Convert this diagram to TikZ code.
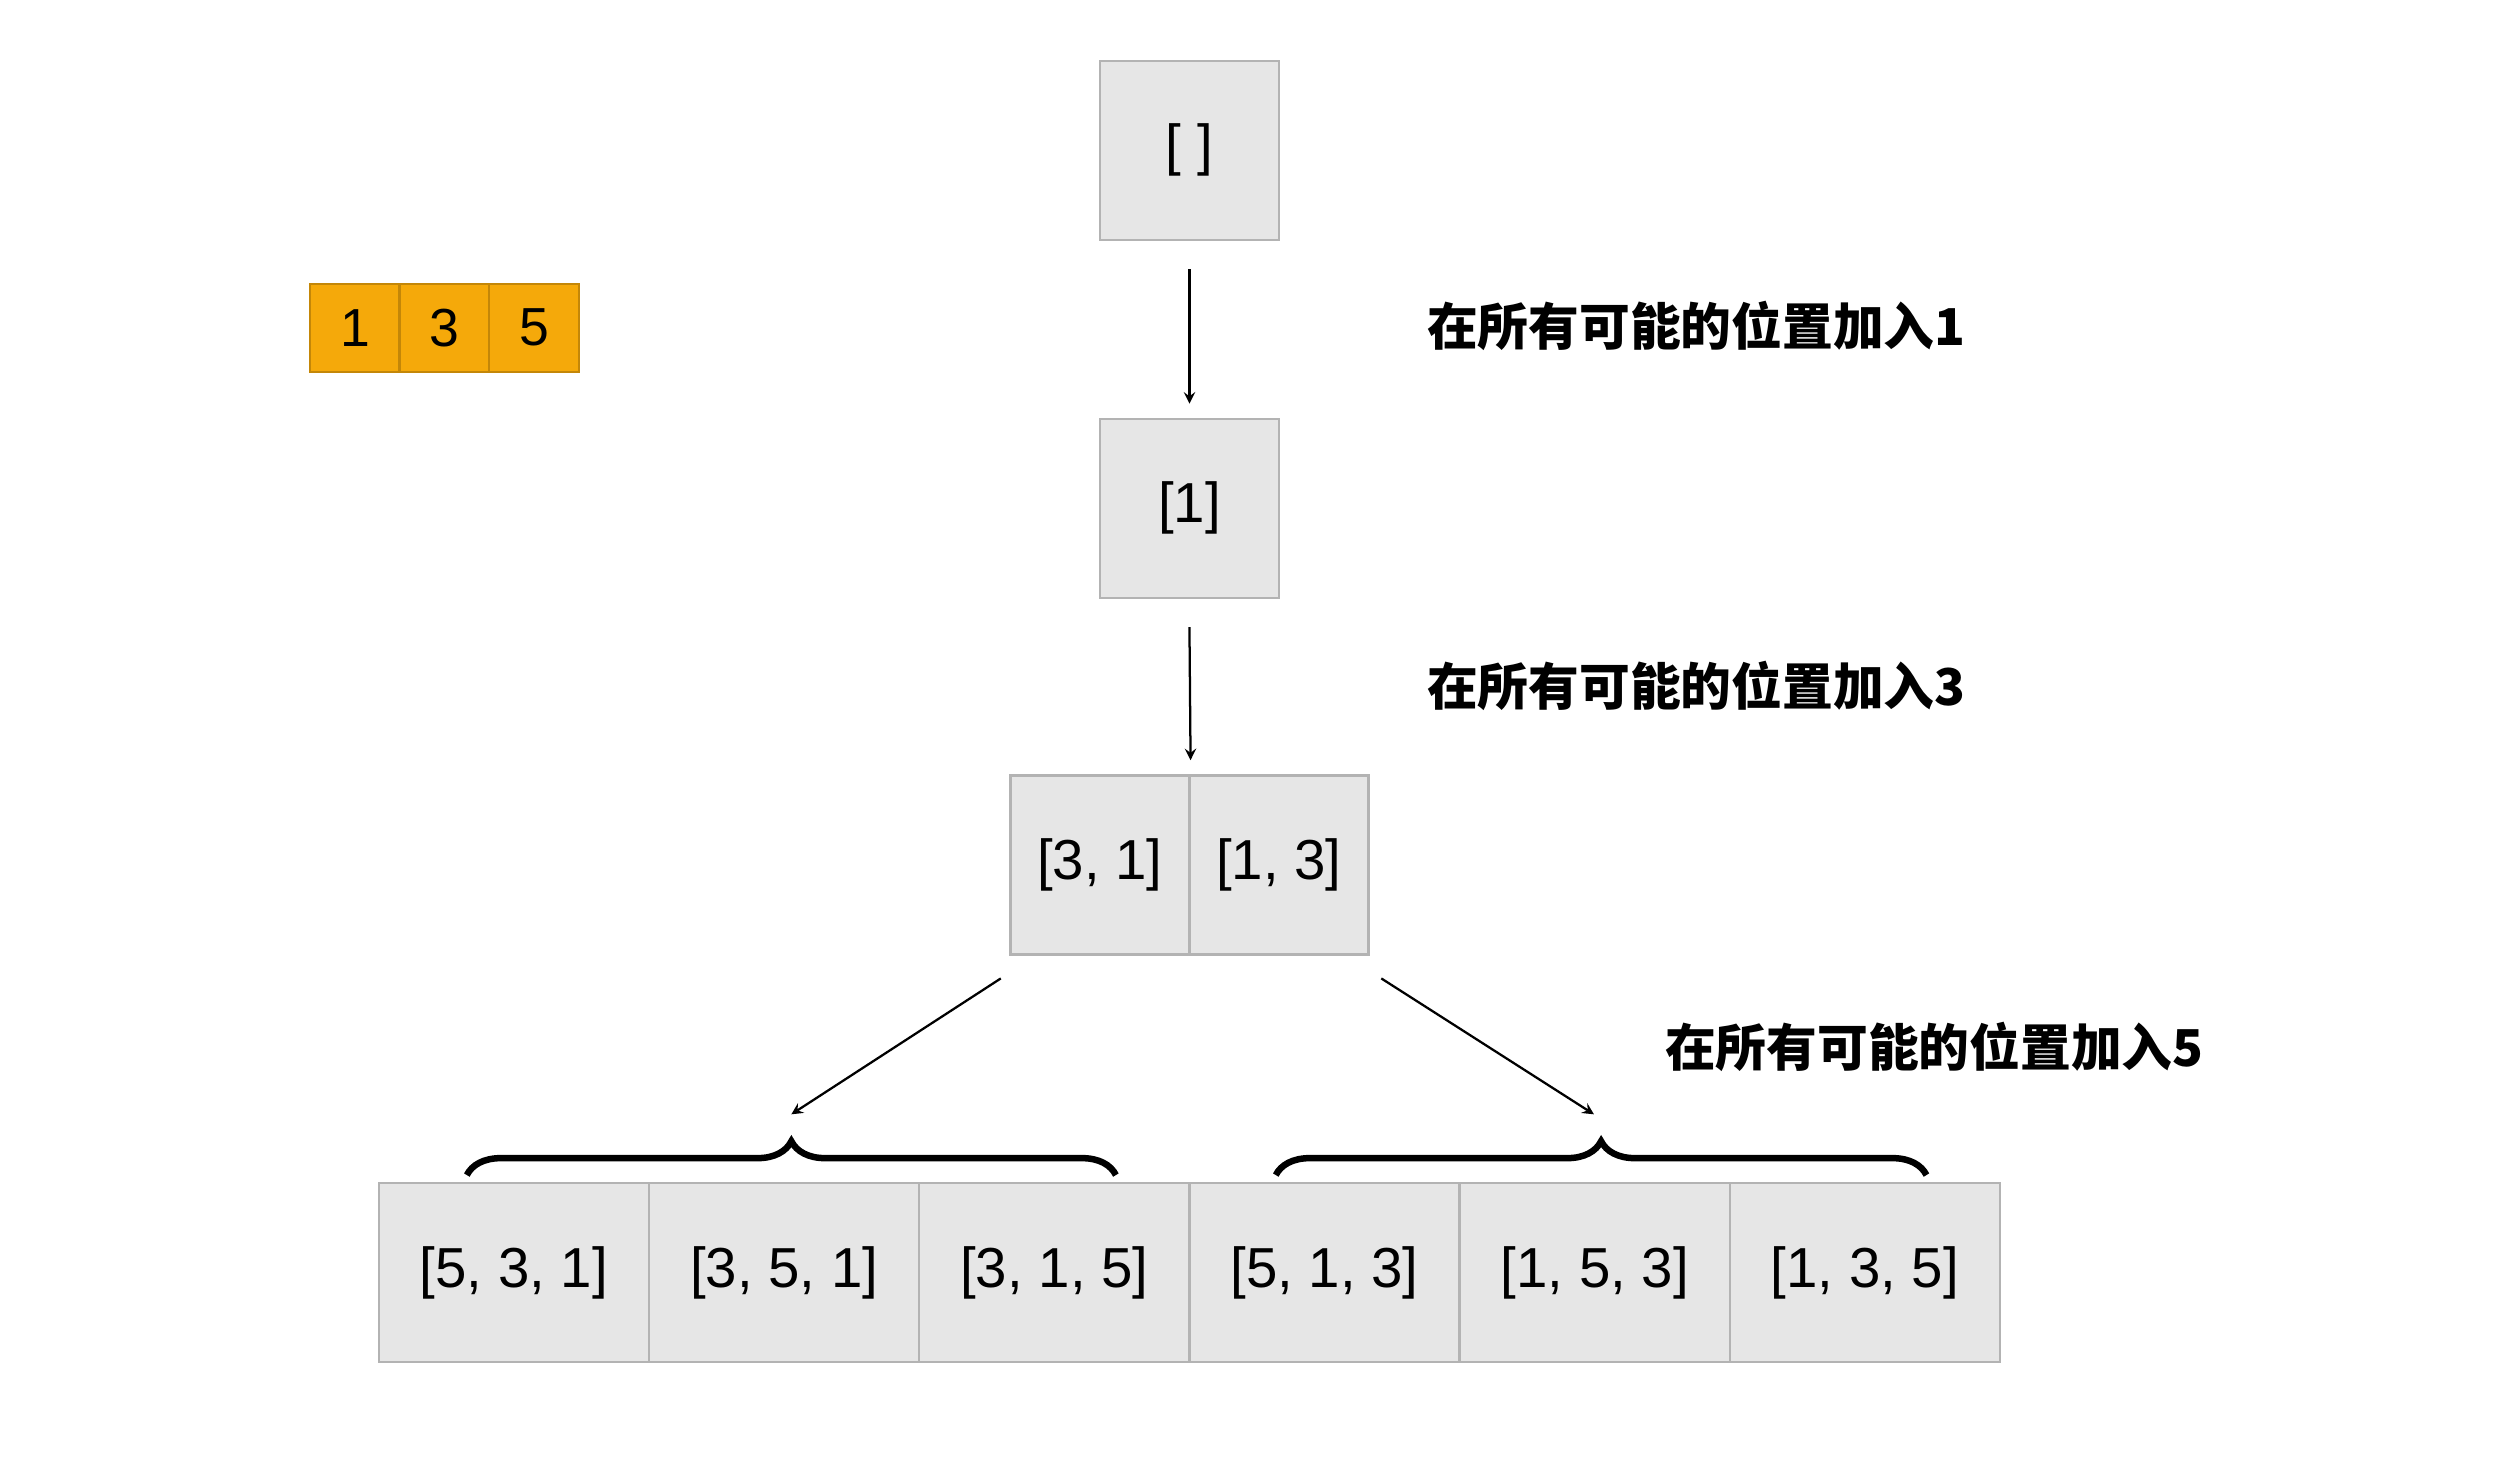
\documentclass[tikz,border=0pt]{standalone}
\usepackage{fontspec}
\setmainfont{Liberation Sans}
\newfontfamily\cjk{Noto Sans CJK SC}
\usetikzlibrary{arrows, decorations.pathreplacing, positioning}
\tikzset{>=stealth}
\definecolor{boxgray}{HTML}{E6E6E6}
\definecolor{edgegray}{HTML}{B3B3B3}
\definecolor{orng}{HTML}{F5A90A}
\tikzset{
  cell/.style={draw=edgegray, fill=boxgray, minimum width=63.5pt, minimum height=63.5pt, inner sep=0pt, font=\fontsize{20}{24}\selectfont},
  wide/.style={cell, minimum width=95.8pt},
  digit/.style={draw=orng!80!black, fill=orng, minimum width=31.8pt, minimum height=31.2pt, inner sep=0pt, font=\fontsize{19}{22}\selectfont},
  step label/.style={font=\cjk\bfseries\fontsize{18}{22}\selectfont, anchor=west},
  bracket/.style={decorate, decoration={brace, amplitude=12pt}, line width=2.3pt}
}
\begin{document}
\begin{tikzpicture}[x=0.567pt, y=-0.567pt, thick]
      \useasboundingbox (0,0) rectangle (1560,926);

      \node[digit] (D1) at (222,205) {1};
      \node[digit] (D3) at (278,205) {3};
      \node[digit] (D5) at (334,205) {5};

      \node[cell] (E)  at (744,94)  {[ ]};
      \node[cell] (A1) at (744,318) {[1]};
      \node[cell] (B1) at (688,541) {[3, 1]};
      \node[cell] (B2) at (800,541) {[1, 3]};

      \node[wide] (C1) at (321.5,796)  {[5, 3, 1]};
      \node[wide] (C2) at (490.5,796)  {[3, 5, 1]};
      \node[wide] (C3) at (659.5,796)  {[3, 1, 5]};
      \node[wide] (C4) at (828.5,796)  {[5, 1, 3]};
      \node[wide] (C5) at (997.5,796)  {[1, 5, 3]};
      \node[wide] (C6) at (1166.5,796) {[1, 3, 5]};

      \node[step label] (L1) at (886,204) {在所有可能的位置加入1};
      \node[step label] (L3) at (886,429) {在所有可能的位置加入3};
      \node[step label] (L5) at (1035,655) {在所有可能的位置加入5};

      \coordinate (BL0) at (292,735);
      \coordinate (BL1) at (698,735);
      \coordinate (BR0) at (798,735);
      \coordinate (BR1) at (1205,735);
      \coordinate (TL) at (495,697);
      \coordinate (TR) at (997,697);
      \coordinate (SL) at (626,612);
      \coordinate (SR) at (864,612);

      \draw[->] ([yshift=-10pt]E.south) -- ([yshift=5pt]A1.north);
      \draw[->] ([yshift=-10pt]A1.south) -- ([yshift=5pt]B1.north east);
      \draw[->] (SL) -- (TL);
      \draw[->] (SR) -- (TR);

      \draw[bracket] (BL0) -- (BL1);
      \draw[bracket] (BR0) -- (BR1);
\end{tikzpicture}
\end{document}
